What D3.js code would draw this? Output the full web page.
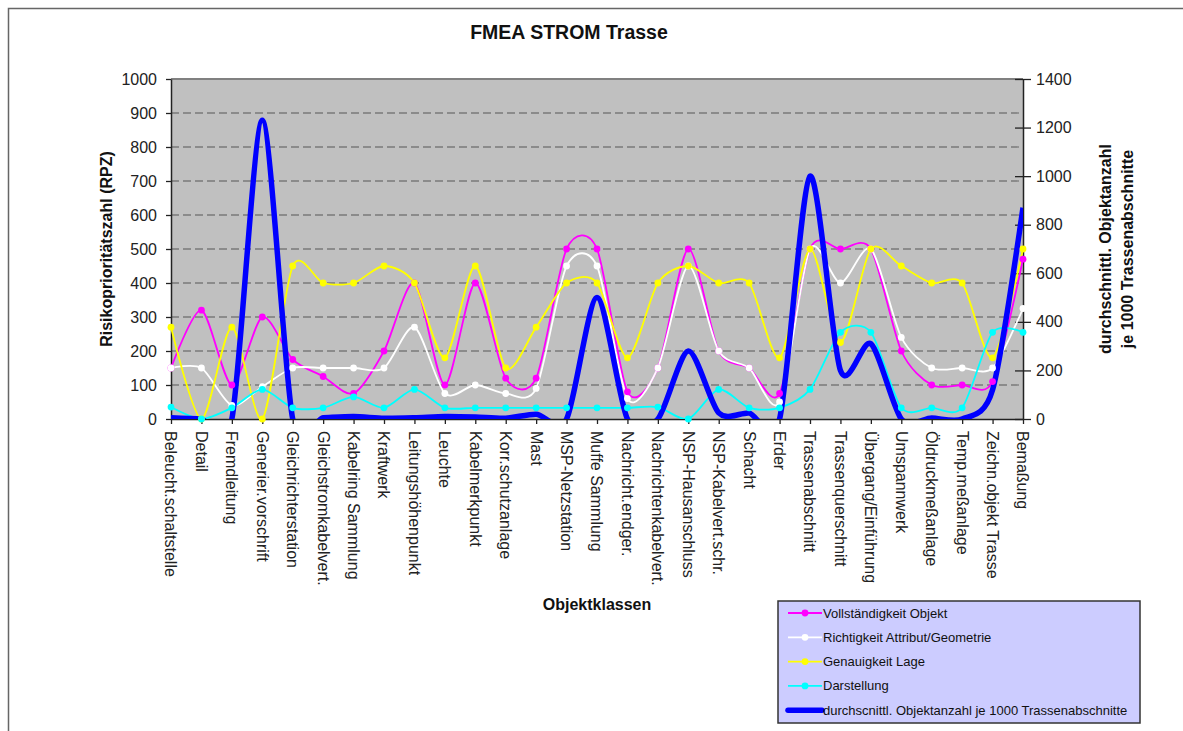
<!DOCTYPE html>
<html>
<head>
<meta charset="utf-8">
<script src="https://cdn.jsdelivr.net/npm/d3@7"></script>
<style>
	body { margin: 0; background: #fff; }
	svg { display: block; font-family: 'Liberation Sans', Arial, sans-serif; }
</style>
</head>
<body>
<div id="chart"></div>
<script>
// Objektklassen
const categories = [
	'Beleucht.schaltstelle', 'Detail', 'Fremdleitung', 'Generier.vorschrift', 'Gleichrichterstation',
	'Gleichstromkabelvert.', 'Kabelring Sammlung', 'Kraftwerk', 'Leitungshöhenpunkt', 'Leuchte',
	'Kabelmerkpunkt', 'Korr.schutzanlage', 'Mast', 'MSP-Netzstation', 'Muffe Sammlung',
	'Nachricht.endger.', 'Nachrichtenkabelvert.', 'NSP-Hausanschluss', 'NSP-Kabelvert.schr.', 'Schacht',
	'Erder', 'Trassenabschnitt', 'Trassenquerschnitt', 'Übergang/Einführung', 'Umspannwerk',
	'Öldruckmeßanlage', 'Temp.meßanlage', 'Zeichn.objekt Trasse', 'Bemaßung'
];

// RPZ (left axis)
const vollstaendigkeit = [150, 320, 100, 300, 175, 125, 75, 200, 400, 100, 400, 120, 120, 500, 500, 80, 150, 500, 200, 150, 75, 500, 500, 500, 200, 100, 100, 110, 470];
const richtigkeit = [150, 150, 40, 95, 150, 150, 150, 150, 270, 75, 100, 75, 90, 450, 450, 60, 150, 450, 200, 150, 50, 500, 400, 500, 240, 150, 150, 150, 325];
const genauigkeit = [270, 0, 270, 0, 450, 400, 400, 450, 400, 180, 450, 150, 270, 400, 400, 180, 400, 450, 400, 400, 180, 500, 225, 500, 450, 400, 400, 180, 500];
const darstellung = [35, 0, 33, 87, 33, 33, 65, 33, 87, 33, 33, 33, 33, 33, 33, 33, 35, 0, 87, 33, 33, 87, 255, 255, 33, 33, 33, 255, 255];

// Objektanzahl je 1000 Trassenabschnitte (right axis)
const objektanzahl = [5, 0, 0, 1230, 0, 5, 10, 3, 5, 10, 8, 3, 20, 0, 500, 0, 0, 280, 25, 25, 0, 1000, 200, 310, 0, 4, 0, 120, 870];

const leftTicks = [0, 100, 200, 300, 400, 500, 600, 700, 800, 900, 1000];
const rightTicks = [0, 200, 400, 600, 800, 1000, 1200, 1400];

const series = [
	{ name: 'Vollständigkeit Objekt', values: vollstaendigkeit, color: '#ff00ff' },
	{ name: 'Richtigkeit Attribut/Geometrie', values: richtigkeit, color: '#ffffff' },
	{ name: 'Genauigkeit Lage', values: genauigkeit, color: '#ffff00' },
	{ name: 'Darstellung', values: darstellung, color: '#00ffff' }
];
const blueName = 'durchscnittl. Objektanzahl je 1000 Trassenabschnitte';

let width = 1183,
	height = 731;
let margin = { top: 79, right: 160, bottom: 312, left: 171 };
let plotRight = width - margin.right,
	plotBottom = height - margin.bottom;

const svg = d3.select('#chart').append('svg').attr('width', width).attr('height', height);

// outer frame
svg.append('rect')
	.attr('x', 8.5).attr('y', 8.5)
	.attr('width', width + 20).attr('height', height + 20)
	.attr('fill', 'none').attr('stroke', '#666').attr('stroke-width', 1.5);

let x = d3.scalePoint().domain(categories).range([ margin.left, plotRight ]);
let yL = d3.scaleLinear().domain([ 0, 1000 ]).range([ plotBottom, margin.top ]);
let yR = d3.scaleLinear().domain([ 0, 1400 ]).range([ plotBottom, margin.top ]);

// plot area
svg.append('rect')
	.attr('x', margin.left).attr('y', margin.top)
	.attr('width', plotRight - margin.left).attr('height', plotBottom - margin.top)
	.attr('fill', '#c0c0c0');

svg.append('g')
	.selectAll('line')
	.data(leftTicks.slice(1, -1))
	.join('line')
	.attr('x1', margin.left).attr('x2', plotRight)
	.attr('y1', (d) => yL(d)).attr('y2', (d) => yL(d))
	.attr('stroke', '#7a7a7a').attr('stroke-width', 1.3)
	.attr('stroke-dasharray', '8,4');

svg.append('line')
	.attr('x1', margin.left).attr('x2', plotRight)
	.attr('y1', margin.top).attr('y2', margin.top)
	.attr('stroke', '#808080').attr('stroke-width', 2);

svg.append('defs').append('clipPath').attr('id', 'plot-clip')
	.append('rect')
	.attr('x', margin.left).attr('y', margin.top)
	.attr('width', plotRight - margin.left).attr('height', plotBottom - margin.top);

// axes
let fmt = d3.format('d');
let xAxis = (g) =>
	g.attr('transform', `translate(0,${plotBottom})`)
		.call(d3.axisBottom(x).tickSize(5).tickSizeOuter(0).tickFormat(''))
		.call((g) => g.select('.domain').attr('stroke', '#222').attr('stroke-width', 1.5))
		.call((g) => g.selectAll('.tick line').attr('stroke', '#222').attr('stroke-width', 1.3));

let yAxisLeft = (g) =>
	g.attr('transform', `translate(${margin.left},0)`)
		.call(d3.axisLeft(yL).tickValues(leftTicks).tickFormat(fmt).tickSize(5).tickSizeOuter(0).tickPadding(9))
		.call((g) => g.select('.domain').attr('stroke', '#222').attr('stroke-width', 1.5))
		.call((g) => g.selectAll('.tick line').attr('stroke', '#222').attr('stroke-width', 1.3))
		.call((g) => g.selectAll('.tick text').attr('font-size', 16).attr('fill', '#222').attr('font-family', null));

let yAxisRight = (g) =>
	g.attr('transform', `translate(${plotRight},0)`)
		.call(d3.axisRight(yR).tickValues(rightTicks).tickFormat(fmt).tickSize(8).tickSizeOuter(0).tickPadding(5))
		.call((g) => g.select('.domain').attr('stroke', '#222').attr('stroke-width', 1.5))
		.call((g) => g.selectAll('.tick line').attr('x1', -8).attr('stroke', '#222').attr('stroke-width', 1.3))
		.call((g) => g.selectAll('.tick text').attr('font-size', 16).attr('fill', '#222').attr('font-family', null));

svg.append('g').call(xAxis);
svg.append('g').call(yAxisLeft);
svg.append('g').call(yAxisRight);

// category labels, rotated
svg.append('g')
	.selectAll('text')
	.data(categories)
	.join('text')
	.attr('transform', (d) => `translate(${x(d)},${plotBottom + 12}) rotate(90)`)
	.attr('dy', '0.35em')
	.attr('font-size', 16)
	.attr('fill', '#222')
	.text((d) => d);

// lines (smoothed like the spreadsheet's "smooth line")
let curve = d3.curveCardinal.tension(0.2);
const lineL = d3.line().x((d, i) => x(categories[i])).y((d) => yL(d)).curve(curve);
const lineR = d3.line().x((d, i) => x(categories[i])).y((d) => yR(d)).curve(curve);

const lines = svg.append('g').attr('clip-path', 'url(#plot-clip)');
series.forEach((s) => {
	lines.append('path')
		.attr('d', lineL(s.values))
		.attr('fill', 'none')
		.attr('stroke', s.color)
		.attr('stroke-width', 1.8);
});

series.forEach((s) => {
	svg.append('g')
		.selectAll('circle')
		.data(s.values)
		.join('circle')
		.attr('cx', (d, i) => x(categories[i]))
		.attr('cy', (d) => yL(d))
		.attr('r', 3.4)
		.attr('fill', s.color);
});

lines.append('path')
	.attr('d', lineR(objektanzahl))
	.attr('fill', 'none')
	.attr('stroke', '#0000ff')
	.attr('stroke-width', 5.5)
	.attr('stroke-linejoin', 'round');

// titles
svg.append('text')
	.attr('x', 569).attr('y', 39)
	.attr('text-anchor', 'middle')
	.attr('font-size', 19.5).attr('font-weight', 'bold').attr('fill', '#111')
	.text('FMEA STROM Trasse');

svg.append('text')
	.attr('transform', `translate(112,${(margin.top + plotBottom) / 2}) rotate(-90)`)
	.attr('text-anchor', 'middle')
	.attr('font-size', 16).attr('font-weight', 'bold').attr('fill', '#111')
	.text('Risikoprioritätszahl (RPZ)');

const rTitle = svg.append('text')
	.attr('transform', `translate(1111,${(margin.top + plotBottom) / 2}) rotate(-90)`)
	.attr('text-anchor', 'middle')
	.attr('font-size', 16).attr('font-weight', 'bold').attr('fill', '#111');
rTitle.append('tspan').attr('x', 0).attr('dy', 0).text('durchschnittl. Objektanzahl');
rTitle.append('tspan').attr('x', 0).attr('dy', 22).text('je 1000 Trassenabschnitte');

svg.append('text')
	.attr('x', (margin.left + plotRight) / 2).attr('y', 610)
	.attr('text-anchor', 'middle')
	.attr('font-size', 16).attr('font-weight', 'bold').attr('fill', '#111')
	.text('Objektklassen');

// legend
const legend = svg.append('g').attr('transform', 'translate(778,601)');
legend.append('rect')
	.attr('width', 362).attr('height', 122)
	.attr('fill', '#ccccff').attr('stroke', '#333').attr('stroke-width', 1.5);

const legendItems = series.map((s) => ({ name: s.name, color: s.color, thick: false }))
	.concat([ { name: blueName, color: '#0000ff', thick: true } ]);

const item = legend.selectAll('g.item')
	.data(legendItems)
	.join('g')
	.attr('class', 'item')
	.attr('transform', (d, i) => `translate(0,${12 + i * 24.3})`);

item.append('line')
	.attr('x1', 10).attr('x2', 44)
	.attr('stroke', (d) => d.color)
	.attr('stroke-width', (d) => (d.thick ? 5.5 : 1.8))
	.attr('stroke-linecap', (d) => (d.thick ? 'round' : 'butt'));

item.filter((d) => !d.thick).append('circle')
	.attr('cx', 27).attr('r', 3.4)
	.attr('fill', (d) => d.color);

item.append('text')
	.attr('x', 45).attr('dy', '0.35em')
	.attr('font-size', 13).attr('fill', '#111')
	.text((d) => d.name);
</script>
</body>
</html>
